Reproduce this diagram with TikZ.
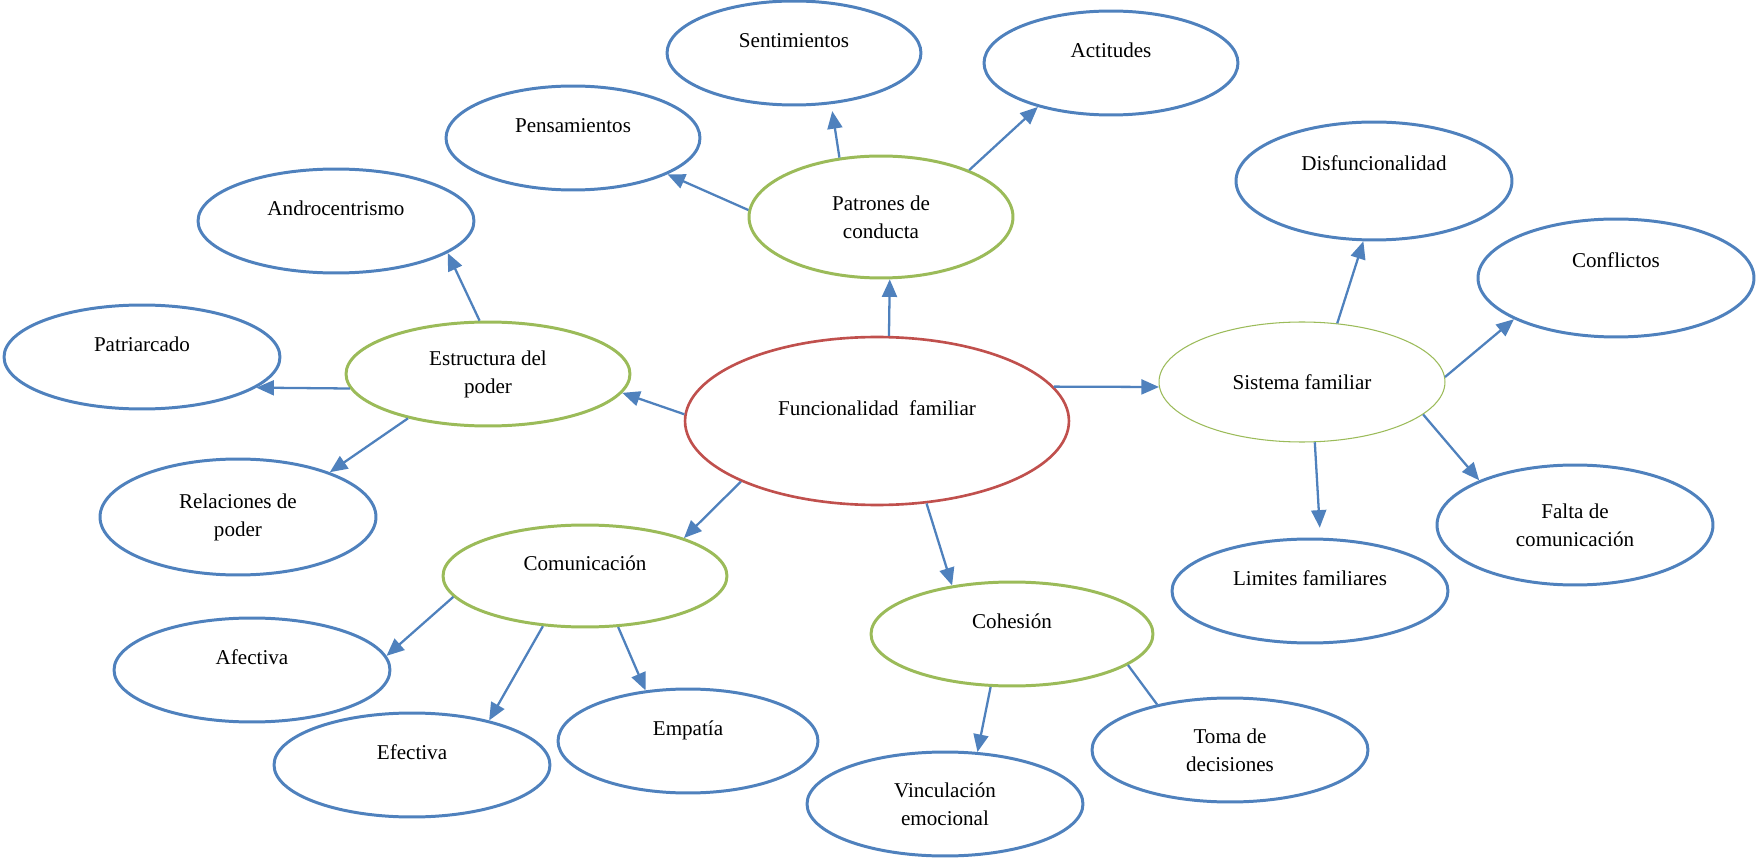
\documentclass[tikz,border=0pt]{standalone}
\usepackage{fontspec}
\setmainfont{Liberation Serif}
\usetikzlibrary{shapes.geometric,arrows.meta}
\definecolor{azul}{HTML}{4F81BD}
\definecolor{verde}{HTML}{9BBB59}
\definecolor{rojo}{HTML}{C0504D}
\tikzset{
  caja/.style={ellipse, align=center, inner sep=0pt, font=\fontsize{12}{16}\selectfont},
  hoja/.style={caja, draw=azul, line width=1.7pt, minimum width=5.52cm, minimum height=2.08cm},
  tema/.style={caja, draw=verde, line width=1.7pt, minimum width=5.68cm, minimum height=2.08cm},
  arriba/.style={text height=9pt, text depth=15.6pt},
  muyarriba/.style={text height=9pt, text depth=21.2pt},
  flecha/.style={draw=azul, line width=1.3pt, -{Triangle[length=10pt,width=8.5pt]}},
  linea/.style={draw=azul, line width=1.3pt},
}
\begin{document}
\begin{tikzpicture}[x=0.02cm, y=-0.02cm]
  \useasboundingbox (0,0) rectangle (1756,858);
  \node[caja, draw=rojo, line width=1.5pt, minimum width=7.68cm, minimum height=3.36cm, arriba] (fun) at (877,421) {Funcionalidad\ \ familiar};
  \node[tema, minimum width=5.28cm, minimum height=2.44cm] (patr) at (881,217) {Patrones de\\conducta};
  \node[hoja, minimum width=5.08cm, arriba] (sent) at (794,53) {Sentimientos};
  \node[hoja, minimum width=5.08cm, arriba] (acti) at (1111,63) {Actitudes};
  \node[hoja, minimum width=5.08cm, arriba] (pens) at (573,138) {Pensamientos};
  \node[tema] (estr) at (488,374) {Estructura del\\poder};
  \node[hoja, arriba] (andr) at (336,221) {Androcentrismo};
  \node[hoja, arriba] (patri) at (142,357) {Patriarcado};
  \node[hoja, minimum height=2.32cm] (rela) at (238,517) {Relaciones de\\poder};
  \node[tema, minimum height=2.04cm, arriba] (comu) at (585,576) {Comunicación};
  \node[hoja, arriba] (afec) at (252,670) {Afectiva};
  \node[hoja, arriba] (efec) at (412,765) {Efectiva};
  \node[hoja, minimum width=5.2cm, arriba] (empa) at (688,741) {Empatía};
  \node[tema, minimum width=5.64cm, arriba] (cohe) at (1012,634) {Cohesión};
  \node[hoja] (vinc) at (945,804) {Vinculación\\emocional};
  \node[hoja] (toma) at (1230,750) {Toma de\\decisiones};
  \node[tema, line width=0.6pt, minimum width=5.72cm, minimum height=2.4cm] (sist) at (1302,382) {Sistema familiar};
  \node[hoja, minimum height=2.36cm, muyarriba] (disf) at (1374,181) {Disfuncionalidad};
  \node[hoja, minimum height=2.36cm, muyarriba] (conf) at (1616,278) {Conflictos};
  \node[hoja, arriba] (limi) at (1310,591) {Limites familiares};
  \node[hoja, minimum height=2.4cm] (falt) at (1575,525) {Falta de\\comunicación};

  \draw[flecha] (fun.82) -- (patr.-82);
  \draw[flecha, shorten >=0.14cm] (patr.125) -- (sent.-54);
  \draw[flecha] (patr.28) -- (acti.211);
  \draw[flecha] (patr.177) -- (pens.-21);
  \draw[flecha] (fun.178) -- (estr.-8);
  \draw[flecha] (estr.99) -- (andr.-16);
  \draw[flecha] (estr.186) -- (patri.-15);
  \draw[flecha] (estr.209) -- (rela.26);
  \draw[flecha] (fun.204) -- (comu.21);
  \draw[flecha] (comu.189) -- (afec.6);
  \draw[flecha] (comu.230) -- (efec.30);
  \draw[flecha] (comu.-57) -- (empa.130);
  \draw[flecha] (fun.-59) -- (cohe.141);
  \draw[flecha] (cohe.248) -- (vinc.58);
  \draw[linea] (cohe.-15) -- (toma.148);
  \draw[flecha] (fun.11) -- (sist.182);
  \draw[flecha] (sist.59) -- (disf.260);
  \draw[flecha] (sist.2) -- (conf.202);
  \draw[flecha, shorten >=0.2cm] (sist.-78) -- (limi.79);
  \draw[flecha] (sist.-15) -- (falt.155);
\end{tikzpicture}
\end{document}
